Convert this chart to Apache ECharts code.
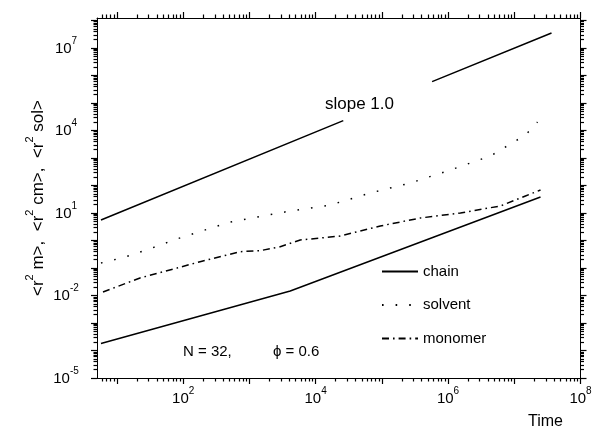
<!DOCTYPE html>
<html><head><meta charset="utf-8">
<script src="https://cdn.jsdelivr.net/npm/echarts@6/dist/echarts.min.js"></script>
<style>html,body{margin:0;padding:0;background:#fff}#c{width:596px;height:432px}</style>
</head><body><div id="c"></div><script>
// ---- data ----
const xRange = [5, 1e8];
const yRange = [1e-5, 1.23e8];
const xLabelValues = [1e2, 1e4, 1e6, 1e8];
const yLabelValues = [1e-5, 1e-2, 1e1, 1e4, 1e7];
const xDecades = [1, 10, 1e2, 1e3, 1e4, 1e5, 1e6, 1e7, 1e8];
const yDecades = [1e-5, 1e-4, 1e-3, 1e-2, 1e-1, 1, 10, 1e2, 1e3, 1e4, 1e5, 1e6, 1e7, 1e8];
const legendNames = ['chain', 'solvent', 'monomer'];

const chainTime = [5.74, 4137, 2.49e7];
const chainVal  = [1.8e-4, 0.0146, 38.2];

const slopeTime = [5.74, 26180, 1e5, 574100, 3.65e7];
const slopeVal  = [5.57, 22720, null, 595200, 3.51e7];

const solventTime = [5.74, 12.2, 30.9, 80.1, 198, 500, 1266, 4137, 16650, 66990, 269600, 1.085e6, 4.37e6, 1.476e7, 2.24e7];
const solventVal  = [0.152, 0.237, 0.491, 1.134, 2.27, 4.59, 6.98, 11.8, 19.5, 53.3, 123, 366, 1182, 6860, 20370];

const monomerTime = [6.16, 22.3, 80.9, 180, 726, 1455, 2920, 5860, 23570, 94850, 381900, 1.537e6, 6.18e6, 1.476e7, 2.49e7];
const monomerVal  = [0.0134, 0.0433, 0.1, 0.169, 0.392, 0.426, 0.595, 1.04, 1.458, 3.37, 6.58, 10, 18, 41.5, 68.6];

// ---- chart ----
const F = '"Liberation Sans", Arial, sans-serif';
const pairs = (t, v) => t.map((x, i) => [x, v[i] == null ? '-' : v[i]]);
const minorOf = (decs, lo, hi) => {
  const out = [];
  decs.forEach(d => { for (let k = 2; k <= 9; k++) { const v = k * d; if (v > lo && v < hi) out.push(v); } });
  return out;
};
const xMinor = minorOf(xDecades, xRange[0], xRange[1]);
const yMinor = minorOf(yDecades, yRange[0], yRange[1]);
const supFmt = v => '{b|10}{s|' + Math.round(Math.log10(v)) + '}';
const rich = {
  b: { fontFamily: F, fontSize: 15, color: '#000', lineHeight: 16, verticalAlign: 'bottom' },
  s: { fontFamily: F, fontSize: 10, color: '#000', lineHeight: 11, verticalAlign: 'bottom', padding: [0, 0, 10, 0] }
};
const black = '#000';
function xAx(pos, major, labels) {
  return {
    type: 'log', min: xRange[0], max: xRange[1], position: pos, gridIndex: 0,
    axisLine: { show: major, lineStyle: { color: black, width: 1 } },
    axisTick: { show: true, inside: false, length: major ? 6 : 3.5, customValues: major ? xDecades : xMinor, lineStyle: { color: black, width: 1.2 } },
    axisLabel: labels ? { show: true, customValues: xLabelValues, formatter: supFmt, rich: rich, margin: 12 } : { show: false },
    splitLine: { show: false }, minorTick: { show: false }
  };
}
function yAx(pos, major, labels) {
  return {
    type: 'log', min: yRange[0], max: yRange[1], position: pos, gridIndex: 0,
    axisLine: { show: major, lineStyle: { color: black, width: 1 } },
    axisTick: { show: true, inside: false, length: major ? 6 : 3.5, customValues: major ? yDecades : yMinor, lineStyle: { color: black, width: 1.2 } },
    axisLabel: labels ? { show: true, customValues: yLabelValues, formatter: supFmt, rich: rich, margin: 31, align: 'center' } : { show: false },
    splitLine: { show: false }, minorTick: { show: false }
  };
}
const yLeft = yAx('left', true, true);
yLeft.name = '<r{s|2} m>,  <r{s|2} cm>,  <r{s|2} sol>';
yLeft.nameLocation = 'middle';
yLeft.nameGap = 50;
yLeft.nameMoveOverlap = false;
yLeft.nameTextStyle = {
  fontFamily: F, fontSize: 17, color: black,
  rich: {
    s: { fontFamily: F, fontSize: 11, color: black, verticalAlign: 'bottom', padding: [0, 0, 12, 0], lineHeight: 12 }
  }
};

const line = (name, t, v, type, extra) => Object.assign({
  name: name, type: 'line', xAxisIndex: 0, yAxisIndex: 0, data: pairs(t, v),
  symbol: 'none', showSymbol: false, silent: true, animation: false,
  lineStyle: { color: black, width: 1.5, type: type, cap: 'butt' },
  itemStyle: { color: black }
}, extra || {});

const chart = echarts.init(document.getElementById('c'), null, { renderer: 'canvas' });
chart.setOption({
  animation: false,
  backgroundColor: '#fff',
  grid: { left: 97, right: 15.5, top: 18, bottom: 54, containLabel: false, outerBoundsMode: 'none' },
  xAxis: [xAx('bottom', true, true), xAx('bottom', false, false), xAx('top', true, false), xAx('top', false, false)],
  yAxis: [yLeft, yAx('left', false, false), yAx('right', true, false), yAx('right', false, false)],
  legend: {
    data: legendNames, orient: 'vertical', left: 381, top: 264, padding: 0,
    itemWidth: 36, itemHeight: 14, itemGap: 18.5, selectedMode: false,
    itemStyle: { opacity: 0 },
    textStyle: { fontFamily: F, fontSize: 15, color: black }
  },
  series: [
    line('chain', chainTime, chainVal, 'solid'),
    line('slope', slopeTime, slopeVal, 'solid'),
    line('solvent', solventTime, solventVal, [1.6, 12]),
    line('monomer', monomerTime, monomerVal, [7, 4, 1.6, 4])
  ],
  graphic: [
    { type: 'text', left: 325, top: 96, style: { text: 'slope 1.0', font: '17px ' + F, fill: black } },
    { type: 'text', left: 183, top: 344, style: { text: 'N = 32,', font: '15px ' + F, fill: black } },
    { type: 'text', left: 273, top: 344, style: { text: '\u03d5 = 0.6', font: '15px ' + F, fill: black } },
    { type: 'text', left: 528, top: 414, style: { text: 'Time', font: '16px ' + F, fill: black } }
  ]
});
</script></body></html>
